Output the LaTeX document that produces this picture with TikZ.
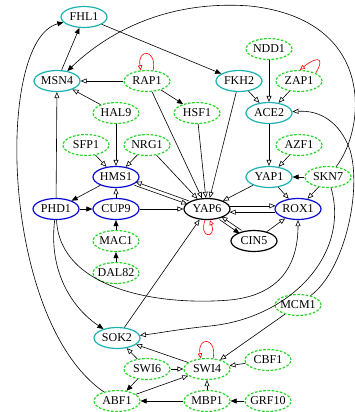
\documentclass[tikz,border=0pt]{standalone}
\usepackage{fontspec}
\setmainfont{Liberation Serif}
\usetikzlibrary{shapes.geometric,arrows.meta}
\definecolor{cyn}{RGB}{28,178,178}
\definecolor{blu}{RGB}{10,10,210}
\definecolor{grn}{RGB}{40,215,40}
\newcommand\lbl[1]{\makebox[0pt]{#1}}
\begin{document}
\begin{tikzpicture}[x=1pt,y=1pt,
  gnode/.style={ellipse,minimum width=46pt,minimum height=21pt,inner sep=0pt,line width=1.2pt,font=\fontsize{12}{14}\selectfont},
  cy/.style={gnode,draw=cyn},
  bl/.style={gnode,draw=blu},
  gr/.style={gnode,draw=grn,dash pattern=on 2.6pt off 1.6pt},
  bk/.style={gnode,draw=black},
  fa/.style={line width=0.6pt,-{Triangle[length=6pt,width=5pt]}},
  oa/.style={line width=0.6pt,-{Triangle[open,length=6pt,width=5pt]}},
  selfloop/.style={red,line width=0.6pt,-{Triangle[open,length=5pt,width=4.5pt]}},
]
\useasboundingbox (0,0) rectangle (355,-412);
% nodes
\node[cy] (FHL1) at (84,-17) {\lbl{FHL1}};
\node[cy] (MSN4) at (57,-81) {\lbl{MSN4}};
\node[gr] (RAP1) at (147,-81) {\lbl{RAP1}};
\node[cy] (FKH2) at (239,-81) {\lbl{FKH2}};
\node[gr] (NDD1) at (269,-49) {\lbl{NDD1}};
\node[gr] (ZAP1) at (299,-81) {\lbl{ZAP1}};
\node[gr] (HAL9) at (116,-113) {\lbl{HAL9}};
\node[gr] (HSF1) at (197,-113) {\lbl{HSF1}};
\node[cy] (ACE2) at (269,-113) {\lbl{ACE2}};
\node[gr] (SFP1) at (86,-145) {\lbl{SFP1}};
\node[gr] (NRG1) at (147,-145) {\lbl{NRG1}};
\node[gr] (AZF1) at (299,-145) {\lbl{AZF1}};
\node[bl] (HMS1) at (116,-177) {\lbl{HMS1}};
\node[cy] (YAP1) at (269,-177) {\lbl{YAP1}};
\node[gr] (SKN7) at (328,-177) {\lbl{SKN7}};
\node[bl] (PHD1) at (56,-209) {\lbl{PHD1}};
\node[bl] (CUP9) at (116,-209) {\lbl{CUP9}};
\node[bk] (YAP6) at (207,-209) {\lbl{YAP6}};
\node[bl] (ROX1) at (298,-209) {\lbl{ROX1}};
\node[gr] (MAC1) at (116,-241) {\lbl{MAC1}};
\node[bk] (CIN5) at (254,-241) {\lbl{CIN5}};
\node[gr] (DAL82) at (116,-273) {\lbl{DAL82}};
\node[gr] (MCM1) at (298,-305) {\lbl{MCM1}};
\node[cy] (SOK2) at (117,-338) {\lbl{SOK2}};
\node[gr] (SWI6) at (147,-369) {\lbl{SWI6}};
\node[gr] (SWI4) at (207,-369) {\lbl{SWI4}};
\node[gr] (CBF1) at (268,-360) {\lbl{CBF1}};
\node[gr] (ABF1) at (117,-401) {\lbl{ABF1}};
\node[gr] (MBP1) at (207,-401) {\lbl{MBP1}};
\node[gr] (GRF10) at (268,-401) {\lbl{GRF10}};
% straight edges
\draw[fa] (MSN4) -- (FHL1);
\draw[fa] (FHL1) -- (FKH2);
\draw[oa] (RAP1) -- (MSN4);
\draw[fa] (RAP1) -- (HSF1);
\draw[oa] (RAP1) -- (YAP6);
\draw[oa] (HAL9) -- (MSN4);
\draw[oa] (HAL9) -- (HMS1);
\draw[oa] (NDD1) -- (ACE2);
\draw[oa] (FKH2) -- (ACE2);
\draw[oa] (ZAP1) -- (ACE2);
\draw[oa] (FKH2) -- (YAP6);
\draw[oa] (HSF1) -- (YAP6);
\draw[oa] (ACE2) -- (YAP1);
\draw[oa] (AZF1) -- (YAP1);
\draw[fa] (SKN7) -- (YAP1);
\draw[oa] (YAP1) -- (ROX1);
\draw[oa] (SKN7) -- (ROX1);
\draw[oa] (YAP1) -- (YAP6);
\draw[oa] (SFP1) -- (HMS1);
\draw[oa] (NRG1) -- (HMS1);
\draw[oa] (NRG1) -- (YAP6);
\draw[fa] (HMS1) -- (PHD1);
\draw[fa] (PHD1) -- (CUP9);
\draw[oa] (CUP9) -- (HMS1);
\draw[oa] (PHD1) -- (MSN4);
\draw[oa] (CUP9) -- (YAP6);
\draw[fa] (MAC1) -- (CUP9);
\draw[fa] (DAL82) -- (MAC1);
\draw[oa] (CIN5) -- (ROX1);
\draw[oa] (SOK2) -- (YAP6);
\draw[oa] (SWI4) -- (SOK2);
\draw[oa] (SWI6) -- (SOK2);
\draw[fa] (SWI6) -- (ABF1);
\draw[oa] (SWI6) -- (SWI4);
\draw[oa] (ABF1) -- (SWI4);
\draw[fa] (MBP1) -- (ABF1);
\draw[oa] (MBP1) -- (SWI4);
\draw[fa] (GRF10) -- (MBP1);
\draw[oa] (CBF1) -- (SWI4);
\draw[oa] (MCM1) -- (SWI4);
% paired edges
\draw[oa] ([shift={(71:1.8)}]YAP6.161) -- ([shift={(71:1.8)}]HMS1.-19);
\draw[oa] ([shift={(-109:1.8)}]HMS1.-19) -- ([shift={(-109:1.8)}]YAP6.161);
\draw[oa] (YAP6.8) -- (ROX1.172);
\draw[oa] (ROX1.188) -- (YAP6.-8);
\draw[fa] ([shift={(-124:1.8)}]YAP6.-34) -- ([shift={(-124:1.8)}]CIN5.146);
\draw[oa] ([shift={(56:1.8)}]CIN5.146) -- ([shift={(56:1.8)}]YAP6.-34);
% curved edges
\draw[fa] (ABF1) .. controls (0,-320) and (-5,-40) .. (FHL1);
\draw[fa] (SKN7) .. controls (365,-130) and (378,-20) .. (250,-6) .. controls (170,0) and (110,-30) .. (MSN4);
\draw[oa] (MCM1) .. controls (345,-270) and (362,-190) .. (350,-150) .. controls (340,-122) and (320,-110) .. (ACE2);
\draw[oa] (SKN7) .. controls (350,-255) and (290,-318) .. (210,-326) .. controls (180,-329) and (160,-333) .. (SOK2);
\draw[oa] (PHD1) .. controls (60,-290) and (160,-306) .. (230,-300) .. controls (280,-295) and (298,-265) .. (ROX1);
\draw[fa] (PHD1) .. controls (48,-275) and (75,-310) .. (SOK2);
% self loops
\draw[selfloop] (RAP1.60) .. controls +(80:22) and +(100:22) .. (RAP1.120);
\draw[selfloop] (ZAP1.25) .. controls +(60:22) and +(40:18) .. (ZAP1.85);
\draw[selfloop] (YAP6.-100) .. controls +(-110:20) and +(-70:20) .. (YAP6.-75);
\draw[selfloop] (SWI4.60) .. controls +(80:22) and +(100:22) .. (SWI4.120);
\end{tikzpicture}
\end{document}
